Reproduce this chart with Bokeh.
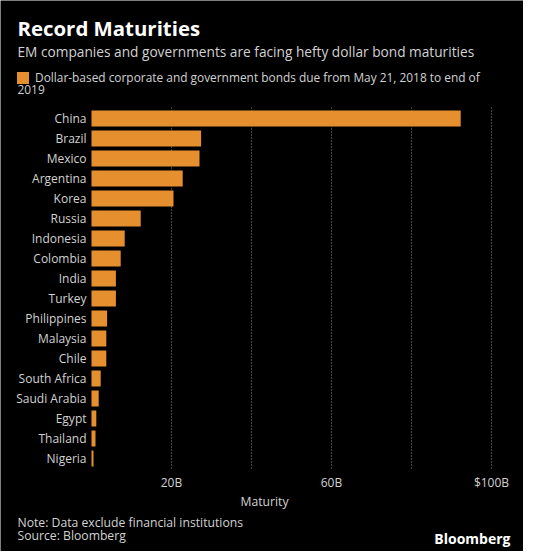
from bokeh.plotting import figure
from bokeh.models import Range1d, Label, Legend, LegendItem
from bokeh.embed import file_html
from bokeh.resources import INLINE

countries = ["China", "Brazil", "Mexico", "Argentina", "Korea", "Russia", "Indonesia",
             "Colombia", "India", "Turkey", "Philippines", "Malaysia", "Chile",
             "South Africa", "Saudi Arabia", "Egypt", "Thailand", "Nigeria"]
maturities_bn = [92.3, 27.4, 27.0, 22.8, 20.5, 12.3, 8.3, 7.3, 6.1, 6.1, 3.9, 3.7, 3.7,
                 2.3, 1.8, 1.2, 1.0, 0.5]
label_ticks = [20, 60, 100]
tick_labels = ["20B", "60B", "$100B"]
grid_ticks = [20, 40, 60, 80, 100]

title_text = "Record Maturities"
subtitle_text = "EM companies and governments are facing hefty dollar bond maturities"
legend_text = "Dollar-based corporate and government bonds due from May 21, 2018 to end of"
legend_text2 = "2019"
xlabel_text = "Maturity"
note_text = "Note: Data exclude financial institutions"
source_text = "Source: Bloomberg"
brand_text = "Bloomberg"

FONT = "Open Sans"
ORANGE = "#E58F2F"
LIGHT = "#D2D2D2"
W, H = 523, 551

rows = list(range(len(countries)))          # row index of each country (0 = top)
last_row = rows[-1]

# plot area: value 0 at x=91px, 4px per $1B; row 0 centred at y=118px, 20px per row
p = figure(width=W, height=H, output_backend="svg", toolbar_location=None,
           x_axis_location=None, y_axis_location=None,
           x_range=Range1d(-91 / 4, (W - 91) / 4),
           y_range=Range1d((H - 118) / 20, -118 / 20),
           min_border=0, min_border_left=0, min_border_right=0,
           min_border_top=0, min_border_bottom=0)
p.background_fill_color = "black"
p.border_fill_color = "black"
p.outline_line_color = None
p.grid.visible = False

# dotted vertical grid lines
p.segment(x0=grid_ticks, x1=grid_ticks, y0=-0.55, y1=last_row + 0.6,
          line_color="#8a8a8a", line_dash="1 2", line_width=1)

# bars
bars = p.hbar(y=rows, right=maturities_bn, left=0, height=0.8,
              fill_color=ORANGE, line_color=None)

# category labels (y axis)
p.text(x=[0] * len(countries), y=rows, text=countries, x_offset=-5,
       text_align="right", text_baseline="middle", text_color=LIGHT,
       text_font={"value": FONT}, text_font_size="12px")

# value tick labels (x axis)
p.text(x=label_ticks, y=[last_row] * len(label_ticks), text=tick_labels, y_offset=24,
       text_align="center", text_baseline="middle", text_color=LIGHT,
       text_font={"value": FONT}, text_font_size="12px")

# legend
legend = Legend(items=[LegendItem(label=legend_text, renderers=[bars])],
                location=(15, 466), orientation="vertical",
                glyph_width=15, glyph_height=15, label_standoff=5,
                label_text_font=FONT, label_text_font_size="11.9px",
                label_text_color=LIGHT, label_height=15,
                background_fill_alpha=0, border_line_alpha=0, padding=0, margin=0,
                spacing=0)
p.add_layout(legend, "center")


def add_label(text, x, y, size, color=LIGHT, style="normal", align="left"):
    # x, y: pixel position from the top-left corner of the chart
    p.add_layout(Label(x=x, y=H - y, x_units="screen", y_units="screen", text=text,
                       text_font=FONT, text_font_size=size, text_color=color,
                       text_font_style=style, text_align=align, text_baseline="middle"))


add_label(title_text, 17, 27.5, "20.4px", color="white", style="bold")
add_label(subtitle_text, 17, 51, "13.7px")
add_label(legend_text2, 17, 89, "11.9px")
add_label(xlabel_text, 264, 500.7, "12.2px", align="center")
add_label(note_text, 17, 522.3, "12.2px")
add_label(source_text, 17, 535, "12.2px")
add_label(brand_text, 510, 538, "14px", color="white", style="bold", align="right")

open("out.html", "w").write(file_html(p, INLINE))
